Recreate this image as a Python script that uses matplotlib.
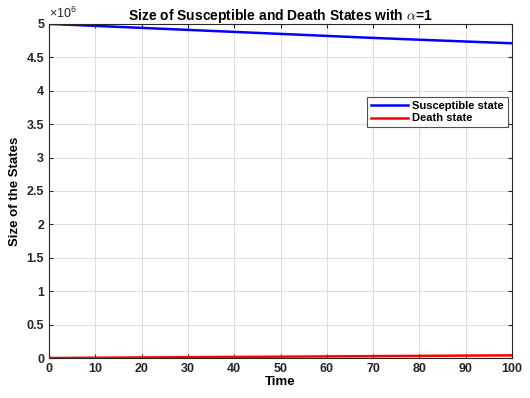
import numpy as np
import matplotlib.pyplot as plt
from matplotlib.ticker import FuncFormatter

plt.rcParams['font.family'] = ['Liberation Sans', 'DejaVu Sans']
plt.rcParams['font.weight'] = 'bold'
plt.rcParams['mathtext.fontset'] = 'cm'

# data
time = [0, 10, 20, 30, 40, 50, 60, 70, 80, 90, 100]
susceptible = [5.0e6, 4.97e6, 4.94e6, 4.91e6, 4.88e6, 4.85e6,
               4.82e6, 4.79e6, 4.763e6, 4.736e6, 4.71e6]
death = [0, 0.004e6, 0.008e6, 0.012e6, 0.016e6, 0.020e6,
         0.024e6, 0.028e6, 0.032e6, 0.036e6, 0.040e6]

fig = plt.figure(figsize=(5.3, 3.98), dpi=100)
ax = fig.add_axes([0.0925, 0.1005, 0.8735, 0.8395])

ax.plot(time, susceptible, color='blue', lw=1.8, label='Susceptible state')
ax.plot(time, death, color='red', lw=1.8, label='Death state')

ax.set_xlim(0, 100)
ax.set_ylim(0, 5e6)
ax.set_xticks(np.arange(0, 101, 10))
ax.set_yticks(np.arange(0, 5.01e6, 0.5e6))
ax.yaxis.set_major_formatter(FuncFormatter(lambda v, p: '%g' % (v / 1e6)))
ax.text(0.0, 1.01, r'$\mathregular{\times 10^{6}}$', transform=ax.transAxes,
        fontsize=9, fontweight='normal', color='#262626', va='bottom')

ax.grid(True, color='#dcdcdc', lw=0.7)
ax.tick_params(direction='in', top=True, right=True, labelsize=9,
               length=3, width=0.8, colors='#262626')
for s in ax.spines.values():
    s.set_color('#262626')
    s.set_linewidth(0.8)

ax.set_xlabel('Time', fontsize=9.5, fontweight='bold', labelpad=1)
ax.set_ylabel('Size of the States', fontsize=9.5, fontweight='bold', labelpad=4)
ax.set_title(r'Size of Susceptible and Death States with $\alpha$=1',
             fontsize=10, fontweight='bold', pad=3)

leg = ax.legend(loc='upper right', bbox_to_anchor=(0.991, 0.78), fontsize=8,
                frameon=True, fancybox=False, edgecolor='#262626',
                borderpad=0.35, handlelength=3.3, handletextpad=0.4,
                labelspacing=0.2, borderaxespad=0)
leg.get_frame().set_linewidth(0.8)

fig.savefig('out.png', dpi=100)
